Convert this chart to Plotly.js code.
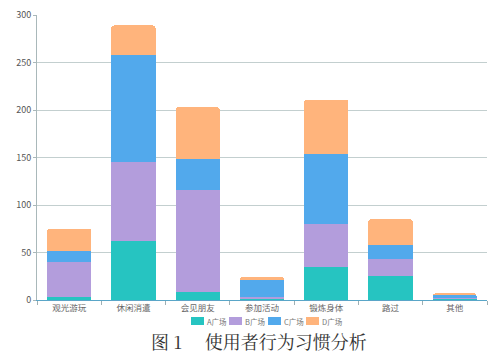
<!DOCTYPE html>
<html>
<head>
<meta charset="utf-8">
<script src="https://cdn.plot.ly/plotly-3.0.1.min.js"></script>
<style>
html,body{margin:0;padding:0;background:#fff;}
#chart{width:490px;height:354px;}
</style>
</head>
<body>
<div id="chart"></div>
<script>
var categories = ['观光游玩', '休闲消遣', '会见朋友', '参加活动', '锻炼身体', '路过', '其他'];
var seriesNames = ['A广场', 'B广场', 'C广场', 'D广场'];
var squareA = [3, 62, 8, 1, 35, 25, 1];
var squareB = [37, 83, 108, 2, 45, 18, 1];
var squareC = [12, 113, 32, 18, 74, 15, 3];
var squareD = [23, 31, 55, 3, 57, 27, 2];
var yTicks = [0, 50, 100, 150, 200, 250, 300];
var caption = '图 1　 使用者行为习惯分析';

var colors = ['#26c4c1', '#b39ddc', '#52a9ec', '#ffb47c'];
var values = [squareA, squareB, squareC, squareD];

var traces = values.map(function (v, i) {
  return {
    type: 'bar',
    name: seriesNames[i],
    x: categories,
    y: v,
    marker: {color: colors[i], line: {width: 0}},
    hoverinfo: 'x+y+name'
  };
});

// manual legend (paper coordinates)
var legendX = [191, 229, 268, 306];
var shapes = [];
var annotations = [];
legendX.forEach(function (px, i) {
  shapes.push({
    type: 'rect', xref: 'paper', yref: 'paper',
    x0: (px - 37) / 450, x1: (px + 13 - 37) / 450,
    y0: (300 - 325) / 285, y1: (300 - 317) / 285,
    fillcolor: colors[i], line: {width: 0}
  });
  annotations.push({
    xref: 'paper', yref: 'paper', xanchor: 'left', yanchor: 'middle',
    x: (px + 14 - 37) / 450, y: (300 - 321) / 285,
    text: seriesNames[i], showarrow: false,
    font: {size: 7.5, color: '#777', family: 'Noto Sans CJK SC, sans-serif'}
  });
});
annotations.push({
  xref: 'paper', yref: 'paper', xanchor: 'center', yanchor: 'middle',
  x: (259 - 37) / 450, y: (300 - 341) / 285,
  text: caption, showarrow: false,
  font: {size: 18, color: '#333', family: 'Noto Serif CJK SC, Noto Sans CJK SC, serif'}
});

var layout = {
  width: 490, height: 354,
  margin: {l: 37, r: 3, t: 15, b: 54},
  paper_bgcolor: '#fff', plot_bgcolor: '#fff',
  barmode: 'stack',
  bargap: 0.31,
  barcornerradius: 3,
  showlegend: false,
  font: {family: 'Noto Sans CJK SC, sans-serif', color: '#555'},
  xaxis: {
    type: 'category',
    showgrid: false,
    showline: true, linecolor: '#5aa6c8', linewidth: 1,
    ticks: 'outside', tickson: 'boundaries', ticklen: 4, tickcolor: '#9fb0b4',
    tickfont: {size: 8.5, color: '#666'},
    fixedrange: true
  },
  yaxis: {
    range: [0, 300],
    tickvals: yTicks,
    showgrid: true, gridcolor: '#c3cfcf', gridwidth: 1,
    showline: true, linecolor: '#a9b8ba', linewidth: 1,
    ticks: 'outside', ticklen: 3, tickcolor: '#a9b8ba',
    tickfont: {size: 9, color: '#555'},
    zeroline: false,
    fixedrange: true
  },
  shapes: shapes,
  annotations: annotations
};

Plotly.newPlot('chart', traces, layout, {displayModeBar: false, staticPlot: true});
</script>
</body>
</html>
